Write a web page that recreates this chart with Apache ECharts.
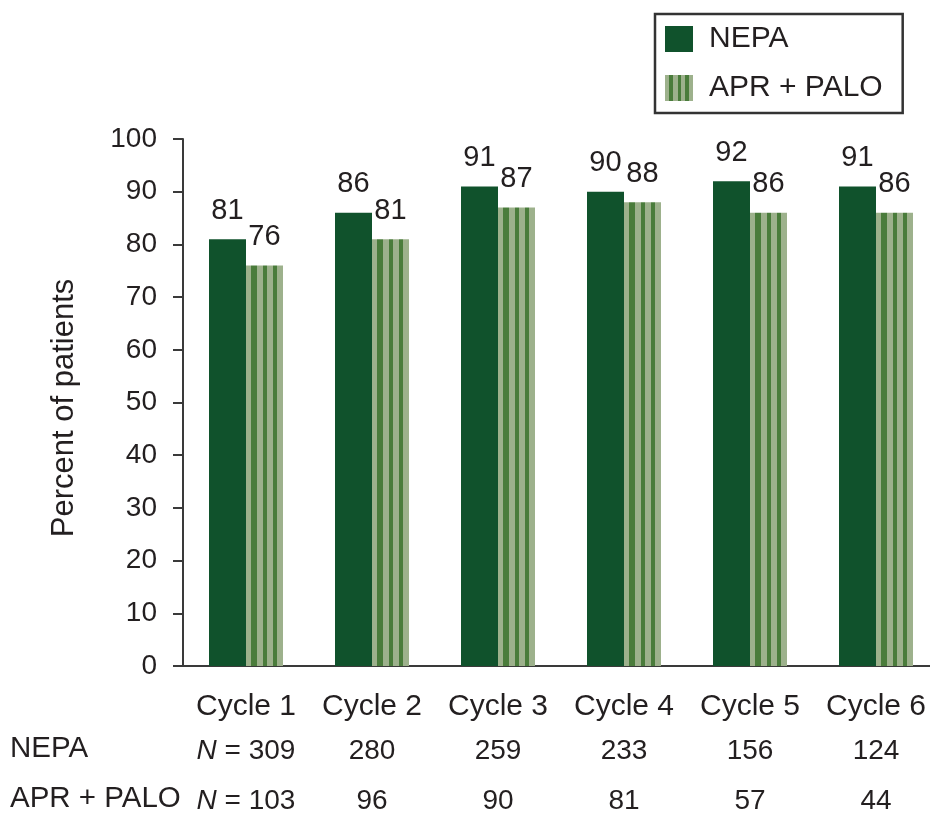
<!DOCTYPE html>
<html>
<head>
<meta charset="utf-8">
<script src="https://cdn.jsdelivr.net/npm/echarts@6/dist/echarts.min.js"></script>
<style>
  html, body { margin: 0; padding: 0; background: #fff; }
  #chart { width: 930px; height: 814px; }
</style>
</head>
<body>
<div id="chart"></div>
<script>
// chart data
const cycles = ["Cycle 1", "Cycle 2", "Cycle 3", "Cycle 4", "Cycle 5", "Cycle 6"];
const nepaValues = [81, 86, 91, 90, 92, 91];
const aprPaloValues = [76, 81, 87, 88, 86, 86];
const nepaN = [309, 280, 259, 233, 156, 124];
const aprPaloN = [103, 96, 90, 81, 57, 44];
const seriesNames = ["NEPA", "APR + PALO"];
const rowLabels = ["NEPA", "APR + PALO"];
const yName = "Percent of patients";

const FONT = "'Liberation Sans', Arial, sans-serif";
const TEXT = "#231f20";
const AXIS = "#3a3a3a";

// vertical stripes for the APR + PALO bars
const dark = "#4a7c3b", light = "#9db18c";
const stripeStops = [];
const cuts = [0, 0.14, 0.30, 0.45, 0.58, 0.72, 0.85, 1];
for (let i = 0; i < cuts.length - 1; i++) {
    const c = i % 2 === 0 ? light : dark;
    stripeStops.push({ offset: cuts[i], color: c }, { offset: cuts[i + 1], color: c });
}
const stripes = { type: "linear", x: 0, y: 0, x2: 1, y2: 0, colorStops: stripeStops };

const chart = echarts.init(document.getElementById("chart"));

const labelFmt = (value, idx) => {
    if (idx === 0) {
        return `{c|${value}}\n{i2|N}{n2| = ${nepaN[idx]}}\n{i3|N}{n3| = ${aprPaloN[idx]}}`;
    }
    return `{c|${value}}\n{n2|${nepaN[idx]}}\n{n3|${aprPaloN[idx]}}`;
};

const txt = { fontFamily: FONT, fontSize: 28, color: TEXT };

chart.setOption({
    animation: false,
    textStyle: { fontFamily: FONT },
    // plot runs a little past the right edge, like the source figure
    grid: { left: 183, width: 756, top: 139, bottom: 148, outerBoundsMode: "none" },
    legend: {
        orient: "vertical",
        left: 655,
        top: 14,
        padding: [10, 20, 10, 10],
        borderColor: "#333",
        borderWidth: 2.5,
        itemWidth: 28,
        itemHeight: 26,
        itemGap: 19,
        icon: "rect",
        textStyle: { fontFamily: FONT, fontSize: 30, color: TEXT, padding: [0, 0, 0, 11] },
        data: seriesNames
    },
    xAxis: {
        type: "category",
        data: cycles,
        axisLine: { lineStyle: { color: AXIS, width: 2 } },
        axisTick: { length: 12, interval: 0, lineStyle: { color: AXIS, width: 2 } },
        axisLabel: {
            interval: 0,
            margin: 21,
            formatter: labelFmt,
            rich: {
                c: { ...txt, fontSize: 30, lineHeight: 40 },
                i2: { ...txt, fontStyle: "italic", lineHeight: 48 },
                n2: { ...txt, lineHeight: 48 },
                i3: { ...txt, fontStyle: "italic", lineHeight: 52 },
                n3: { ...txt, lineHeight: 52 }
            }
        }
    },
    yAxis: {
        type: "value",
        min: 0,
        max: 100,
        interval: 10,
        axisLine: { show: true, lineStyle: { color: AXIS, width: 2 } },
        axisTick: { show: true, length: 10, lineStyle: { color: AXIS, width: 2 } },
        axisLabel: { ...txt, margin: 26 },
        splitLine: { show: false }
    },
    series: [
        {
            name: seriesNames[0],
            type: "bar",
            data: nepaValues,
            barWidth: 37,
            barGap: "0%",
            itemStyle: { color: "#10522c" },
            label: { show: true, position: "top", distance: 14, ...txt, fontSize: 29 }
        },
        {
            name: seriesNames[1],
            type: "bar",
            data: aprPaloValues,
            barWidth: 37,
            barGap: "0%",
            itemStyle: { color: stripes },
            label: { show: true, position: "top", distance: 14, ...txt, fontSize: 29 }
        }
    ],
    graphic: [
        {
            type: "text", x: 64, y: 408, rotation: Math.PI / 2,
            style: { text: yName, font: `31px ${FONT}`, fill: TEXT, align: "center", verticalAlign: "middle" }
        },
        { type: "text", left: 10, top: 751 - 17, style: { text: rowLabels[0], font: `29.5px ${FONT}`, fill: TEXT } },
        { type: "text", left: 10, top: 801 - 17, style: { text: rowLabels[1], font: `29.5px ${FONT}`, fill: TEXT } }
    ]
});
</script>
</body>
</html>
